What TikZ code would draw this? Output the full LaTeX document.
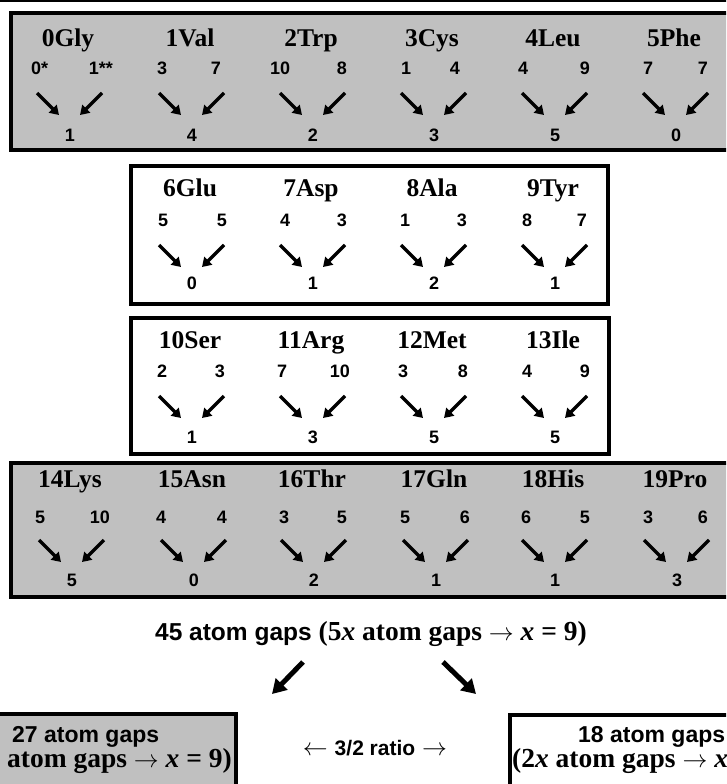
\documentclass[tikz,border=0pt]{standalone}
\usepackage{fontspec}
\setmainfont{Liberation Serif}
\setsansfont{Liberation Sans}
\usetikzlibrary{arrows.meta}

\definecolor{boxgray}{RGB}{192,192,192}

\begin{document}
\begin{tikzpicture}[x=1pt, y=-1pt,
    graybox/.style = {draw, line width=4pt, fill=boxgray},
    whitebox/.style = {draw, line width=4pt, fill=white},
    title/.style = {inner sep=0pt, text height=17pt, text depth=0pt, font=\fontsize{25.5}{30}\selectfont\bfseries},
    num/.style = {inner sep=0pt, text height=13pt, text depth=0pt, font=\fontsize{18}{21}\selectfont\sffamily\bfseries},
    gap/.style = {line width=3.5pt, -{Triangle[length=9pt, width=11pt]}},
    bigarrow/.style = {line width=5pt, -{Triangle[length=14pt, width=16pt]}},
    total/.style = {inner sep=0pt, text height=18pt, text depth=4pt, font=\fontsize{27.5}{30}\selectfont\bfseries}]
    \clip (0,0) rectangle (726,784);
    \draw[line width=1.5pt] (-5,1) -- (740,1);

    % the four rows of residues
    \draw[graybox] (11,13) rectangle (740,150);
    \draw[whitebox] (131,166) rectangle (608,304);
    \draw[whitebox] (131,318) rectangle (609,454);
    \draw[graybox] (11,463) rectangle (740,597);

    \foreach \i/\x/\l/\rr/\nm/\a/\b/\s in {0/68/31/113/0Gly/0*/1**/1, 1/190/157/221/1Val/3/7/4,
        2/311/270/347/2Trp/10/8/2, 3/432/401/460/3Cys/1/4/3, 4/553/518/590/4Leu/4/9/5, 5/674/643/708/5Phe/7/7/0} {
      \node[title] (t1\i) at (\x,38) {\nm};
      \node[num, anchor=west] (a1\i) at (\l,68) {\a};
      \node[num, anchor=east] (b1\i) at (\rr,68) {\b};
      \node[num] (s1\i) at (\x+2,135) {\s};
      \coordinate (p1\i) at (\x-31,93); \coordinate (q1\i) at (\x-9,115);
      \coordinate (u1\i) at (\x+34,93); \coordinate (v1\i) at (\x+12,115);
      \draw[gap] (p1\i) -- (q1\i);
      \draw[gap] (u1\i) -- (v1\i);
    }
    \foreach \i/\x/\l/\rr/\nm/\a/\b/\s in {1/190/158/227/6Glu/5/5/0, 2/311/280/347/7Asp/4/3/1,
        3/432/400/467/8Ala/1/3/2, 4/553/522/587/9Tyr/8/7/1} {
      \node[title] (t2\i) at (\x,188) {\nm};
      \node[num, anchor=west] (a2\i) at (\l,220) {\a};
      \node[num, anchor=east] (b2\i) at (\rr,220) {\b};
      \node[num] (s2\i) at (\x+2,283) {\s};
      \coordinate (p2\i) at (\x-31,245); \coordinate (q2\i) at (\x-9,267);
      \coordinate (u2\i) at (\x+34,245); \coordinate (v2\i) at (\x+12,267);
      \draw[gap] (p2\i) -- (q2\i);
      \draw[gap] (u2\i) -- (v2\i);
    }
    \foreach \i/\x/\l/\rr/\nm/\a/\b/\s in {1/190/157/225/10Ser/2/3/1, 2/311/277/350/11Arg/7/10/3,
        3/432/398/468/12Met/3/8/5, 4/553/522/590/13Ile/4/9/5} {
      \node[title] (t3\i) at (\x,340) {\nm};
      \node[num, anchor=west] (a3\i) at (\l,371) {\a};
      \node[num, anchor=east] (b3\i) at (\rr,371) {\b};
      \node[num] (s3\i) at (\x+2,437) {\s};
      \coordinate (p3\i) at (\x-31,396); \coordinate (q3\i) at (\x-9,418);
      \coordinate (u3\i) at (\x+34,396); \coordinate (v3\i) at (\x+12,418);
      \draw[gap] (p3\i) -- (q3\i);
      \draw[gap] (u3\i) -- (v3\i);
    }
    \foreach \i/\x/\l/\rr/\nm/\a/\b/\s in {0/70/35/110/14Lys/5/10/5, 1/192/156/227/15Asn/4/4/0,
        2/312/279/347/16Thr/3/5/2, 3/434/400/470/17Gln/5/6/1, 4/553/521/590/18His/6/5/1, 5/675/643/708/19Pro/3/6/3} {
      \node[title] (t4\i) at (\x,479) {\nm};
      \node[num, anchor=west] (a4\i) at (\l,517) {\a};
      \node[num, anchor=east] (b4\i) at (\rr,517) {\b};
      \node[num] (s4\i) at (\x+2,580) {\s};
      \coordinate (p4\i) at (\x-31,540); \coordinate (q4\i) at (\x-9,562);
      \coordinate (u4\i) at (\x+34,540); \coordinate (v4\i) at (\x+12,562);
      \draw[gap] (p4\i) -- (q4\i);
      \draw[gap] (u4\i) -- (v4\i);
    }

    % the split at the bottom
    \node[total] (tot) at (371,633) {{\fontsize{24.5}{28}\selectfont\sffamily 45 atom gaps} (5\textit{x} atom gaps $\rightarrow$ \textit{x} = 9)};
    \coordinate (la) at (303,662); \coordinate (lb) at (272,694);
    \coordinate (ra) at (443,662); \coordinate (rb) at (476,694);
    \draw[bigarrow] (la) -- (lb);
    \draw[bigarrow] (ra) -- (rb);

    \draw[graybox] (-20,714) rectangle (236,800);
    \draw[whitebox] (510,715) rectangle (760,800);
    \node[total, anchor=west] (lt1) at (12,735) {\fontsize{23}{28}\selectfont\sffamily 27 atom gaps};
    \node[total, anchor=east] (lt2) at (232,760) {(3\textit{x} atom gaps $\rightarrow$ \textit{x} = 9)};
    \node[total, anchor=west] (rt1) at (578,735) {\fontsize{23}{28}\selectfont\sffamily 18 atom gaps};
    \node[total, anchor=west] (rt2) at (512,760) {(2\textit{x} atom gaps $\rightarrow$ \textit{x} = 9)};
    \node[total] (ratio) at (375,748) {$\leftarrow$ {\fontsize{21}{26}\selectfont\sffamily 3/2 ratio} $\rightarrow$};
\end{tikzpicture}
\end{document}
